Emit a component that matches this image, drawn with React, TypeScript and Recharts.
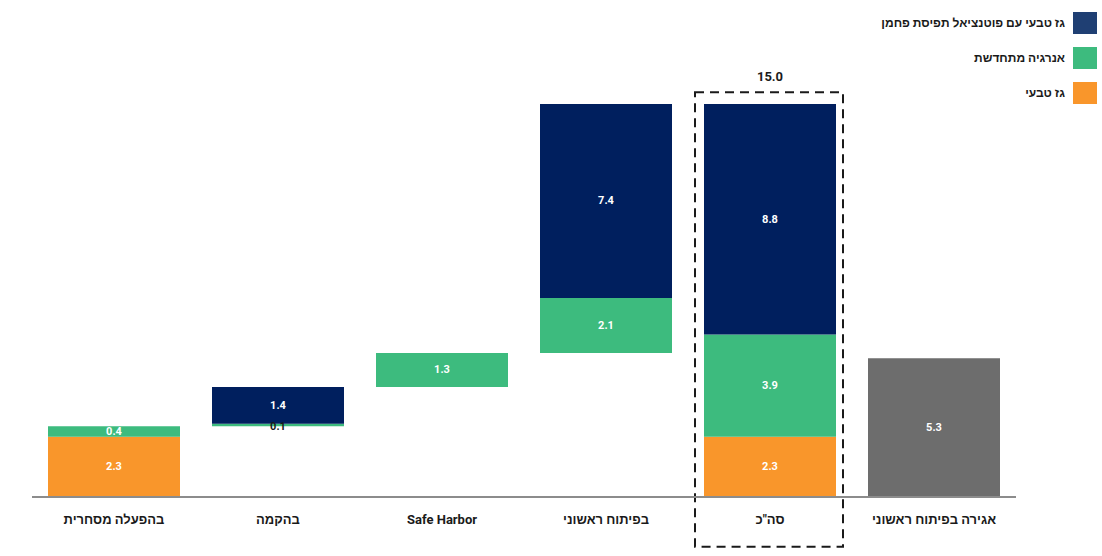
import { Bar, BarChart, LabelList, ReferenceArea, XAxis, YAxis } from "recharts";

const categories = [
  "בהפעלה מסחרית",
  "בהקמה",
  "Safe Harbor",
  "בפיתוח ראשוני",
  'סה"כ',
  "אגירה בפיתוח ראשוני",
];
// invisible offset for the waterfall steps
const baseValues = [0, 2.7, 4.2, 5.5, 0, 0];
const gasValues = [2.3, 0, 0, 0, 2.3, 0];
const renewableValues = [0.4, 0.1, 1.3, 2.1, 3.9, 0];
const flexGasValues = [0, 1.4, 0, 7.4, 8.8, 0];
const storageValues = [0, 0, 0, 0, 0, 5.3];
const totalLabels = [null, null, null, null, 15.0, null];

const NAVY = "#001f5e";
const GREEN = "#3dbb7e";
const ORANGE = "#f9962b";
const GRAY = "#6d6d6d";
const FONT = "Roboto, 'Liberation Sans', 'DejaVu Sans', sans-serif";

const legendItems = [
  { name: "גז טבעי עם פוטנציאל תפיסת פחמן", color: "#1f3f73" },
  { name: "אנרגיה מתחדשת", color: GREEN },
  { name: "גז טבעי", color: ORANGE },
];

const data = categories.map((c, i) => ({
  name: c,
  base: baseValues[i],
  gas: gasValues[i],
  renewable: renewableValues[i],
  flexGas: flexGasValues[i],
  storage: storageValues[i],
  total: totalLabels[i],
}));

function ValueLabel(props: any) {
  const { x, y, width, height, value } = props;
  if (!value) return null;
  const thin = height < 8;
  return (
    <text
      x={x + width / 2}
      y={y + height / 2 + (thin ? 2 : 0)}
      textAnchor="middle"
      dominantBaseline="central"
      fill={thin ? "#1a1a1a" : "#ffffff"}
      fontSize={11}
      fontWeight={700}
      fontFamily={FONT}
    >
      {value.toFixed(1)}
    </text>
  );
}

function TotalLabel(props: any) {
  const { x, y, width, value } = props;
  if (value == null) return null;
  return (
    <text
      x={x + width / 2}
      y={y - 28}
      textAnchor="middle"
      dominantBaseline="central"
      fill="#1a1a1a"
      fontSize={13}
      fontWeight={700}
      fontFamily={FONT}
    >
      {value.toFixed(1)}
    </text>
  );
}

function DashedBox(props: any) {
  const { x, y, width, height } = props;
  return (
    <rect
      x={x + 7}
      y={y}
      width={width - 16}
      height={height}
      fill="none"
      stroke="#1a1a1a"
      strokeWidth={2}
      strokeDasharray="9 6"
    />
  );
}

export default function App() {
  return (
    <div style={{ position: "absolute", left: 0, top: 0, width: 1102, height: 556, background: "#fff" }}>
      <BarChart
        width={1102}
        height={556}
        data={data}
        margin={{ top: 104, right: 86, left: 32, bottom: 29 }}
        barCategoryGap={16}
      >
        <XAxis
          dataKey="name"
          height={30}
          axisLine={{ stroke: "#8c8c8c", strokeWidth: 2 }}
          tickLine={false}
          tickMargin={12}
          interval={0}
          tick={{ fill: "#1a1a1a", fontSize: 13, fontWeight: 700, fontFamily: FONT }}
        />
        <YAxis hide domain={[0, 15]} allowDataOverflow />
        <ReferenceArea
          x1={categories[4]}
          x2={categories[4]}
          y1={-1.9}
          y2={15.45}
          ifOverflow="visible"
          shape={<DashedBox />}
        />
        <Bar dataKey="base" stackId="a" fill="transparent" isAnimationActive={false} />
        <Bar dataKey="gas" stackId="a" fill={ORANGE} isAnimationActive={false}>
          <LabelList dataKey="gas" content={<ValueLabel />} />
        </Bar>
        <Bar dataKey="renewable" stackId="a" fill={GREEN} isAnimationActive={false}>
          <LabelList dataKey="renewable" content={<ValueLabel />} />
        </Bar>
        <Bar dataKey="flexGas" stackId="a" fill={NAVY} isAnimationActive={false}>
          <LabelList dataKey="flexGas" content={<ValueLabel />} />
          <LabelList dataKey="total" content={<TotalLabel />} />
        </Bar>
        <Bar dataKey="storage" stackId="a" fill={GRAY} isAnimationActive={false}>
          <LabelList dataKey="storage" content={<ValueLabel />} />
        </Bar>
      </BarChart>
      <div
        style={{
          position: "absolute",
          top: 12,
          right: 5,
          fontFamily: FONT,
          fontSize: 12,
          fontWeight: 700,
          color: "#1a1a1a",
        }}
      >
        {legendItems.map((item) => (
          <div
            key={item.name}
            style={{
              display: "flex",
              alignItems: "center",
              justifyContent: "flex-end",
              height: 22,
              marginBottom: 13,
            }}
          >
            <span dir="rtl" style={{ marginRight: 8 }}>
              {item.name}
            </span>
            <span style={{ width: 24, height: 22, background: item.color, display: "inline-block" }} />
          </div>
        ))}
      </div>
    </div>
  );
}
